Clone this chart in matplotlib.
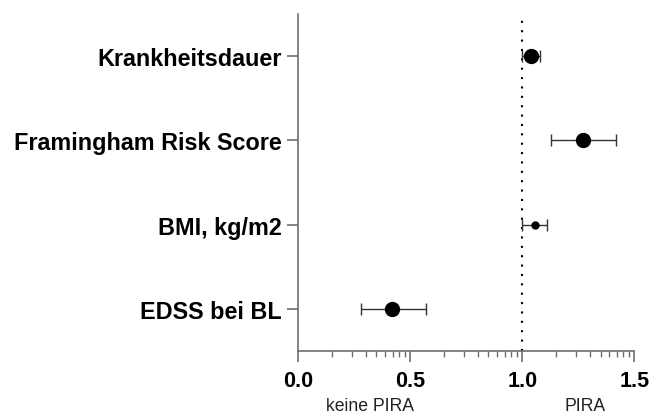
import numpy as np
import matplotlib.pyplot as plt
from matplotlib.ticker import FixedLocator
import matplotlib.transforms as mtransforms

plt.rcParams['font.family'] = ['Liberation Sans', 'DejaVu Sans']

labels = ["EDSS bei BL", "BMI, kg/m2", "Framingham Risk Score", "Krankheitsdauer"]
est = [0.42, 1.055, 1.27, 1.04]
lo = [0.28, 0.997, 1.13, 1.00]
hi = [0.57, 1.11, 1.42, 1.08]
msize = [10, 5, 10, 10]

fig = plt.figure(figsize=(6.51, 4.14), dpi=100)
ax = fig.add_axes([0.4578, 0.1498, 0.5165, 0.814])

ax.axvline(1.0, color="black", lw=1.5, ls=(0, (1, 3.5)), zorder=1)

for i in range(len(labels)):
    ax.errorbar(est[i], i, xerr=[[est[i] - lo[i]], [hi[i] - est[i]]],
                fmt="o", color="black", ecolor="#333333", elinewidth=1.0,
                capsize=4, capthick=1.0, markersize=msize[i], zorder=3)

ax.set_xlim(0, 1.5)
ax.set_ylim(-0.5, 3.5)
ax.set_yticks(range(len(labels)))
ax.set_yticklabels(labels, fontsize=16.8, fontweight="bold")
ax.set_xticks([0.0, 0.5, 1.0, 1.5])
ax.set_xticklabels(["0.0", "0.5", "1.0", "1.5"], fontsize=15.5, fontweight="bold")

# log-like minor ticks inside each 0.5 step
minor = [0.5 * k + 0.5 * np.log10(m) for k in range(3) for m in range(2, 10)]
ax.xaxis.set_minor_locator(FixedLocator(minor))

for s in ["top", "right"]:
    ax.spines[s].set_visible(False)
for s in ["left", "bottom"]:
    ax.spines[s].set_color("#6e6e6e")
    ax.spines[s].set_linewidth(1.2)
ax.tick_params(axis="y", which="major", length=8, width=1.2, color="#6e6e6e", pad=4)
ax.tick_params(axis="x", which="major", length=8, width=1.2, color="#6e6e6e", pad=6)
ax.tick_params(axis="x", which="minor", length=4, width=1.0, color="#6e6e6e")

trans = mtransforms.blended_transform_factory(ax.transData, fig.transFigure)
ax.text(0.32, 0.017, "keine PIRA", transform=trans, ha="center", va="center",
        fontsize=12.7, color="#222222")
ax.text(1.28, 0.017, "PIRA", transform=trans, ha="center", va="center",
        fontsize=12.7, color="#222222")

fig.savefig("out.png", dpi=100)
